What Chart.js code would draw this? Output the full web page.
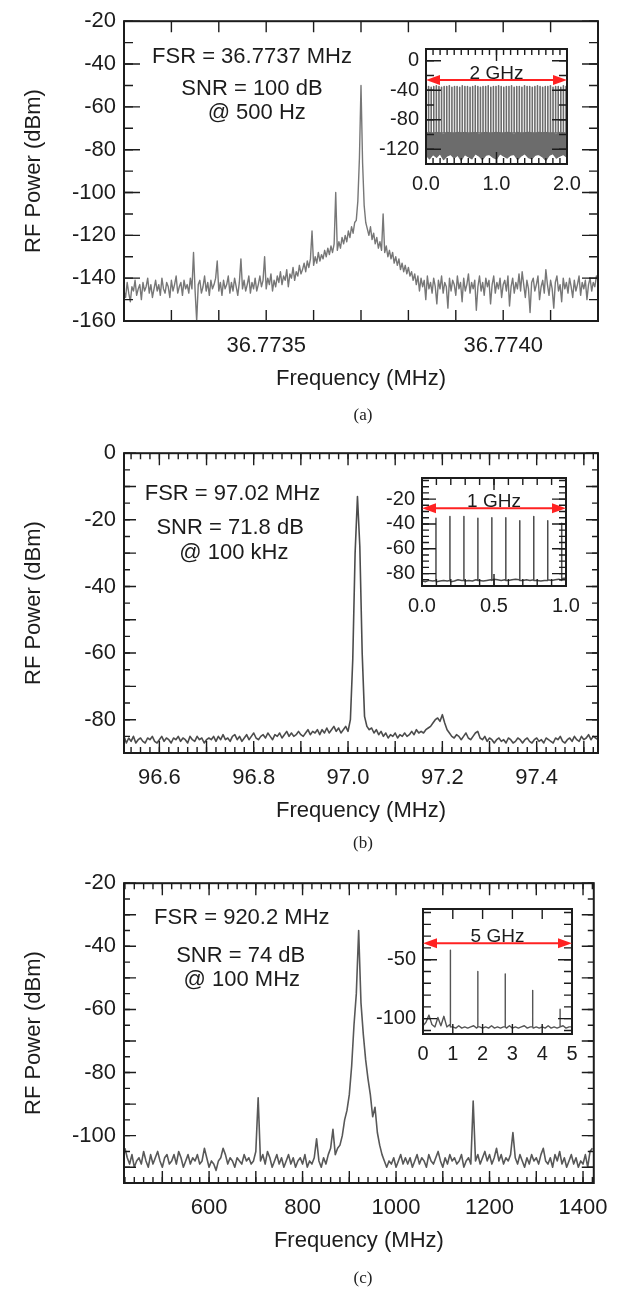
<!DOCTYPE html>
<html>
<head>
<meta charset="utf-8">
<title>RF spectra</title>
<script src="https://cdn.jsdelivr.net/npm/chart.js@4.4.1/dist/chart.umd.min.js"></script>
<style>
  html, body { margin: 0; padding: 0; background: #fff; }
  #figure { position: relative; width: 620px; height: 1290px; overflow: hidden; }
  .panel { position: absolute; left: 0; width: 620px; height: 430px; }
  .panel canvas { position: absolute; }
  .cap { position: absolute; left: 124px; width: 478px; text-align: center; line-height: 20px;
         font: 17px "Liberation Serif", "Times New Roman", serif; color: #222; }
</style>
</head>
<body>
<div id="figure">
  <div class="panel" style="top:0">
    <canvas id="mainA" width="620" height="430" style="left:0;top:0"></canvas>
    <canvas id="insetA" width="229" height="174" style="left:362px;top:30px"></canvas>
  </div>
  <div class="panel" style="top:432px">
    <canvas id="mainB" width="620" height="430" style="left:0;top:0"></canvas>
    <canvas id="insetB" width="232" height="167" style="left:358px;top:27px"></canvas>
  </div>
  <div class="panel" style="top:862px">
    <canvas id="mainC" width="620" height="430" style="left:0;top:0"></canvas>
    <canvas id="insetC" width="237" height="184" style="left:359px;top:28px"></canvas>
  </div>
  <div class="cap" style="top:405px">(a)</div>
  <div class="cap" style="top:833px">(b)</div>
  <div class="cap" style="top:1268px">(c)</div>
</div>
<script>
// ---------- (a) 36.77 MHz ring, zoom on one comb line ----------
const aFreqStart = 36.7732, aFreqStep = 1e-3 / 300;   // MHz
const aPower = [
  -146,-149,-142,-147,-151,-144,-146,-141,-148,-145,-143,-150,-142,-146,-144,-140,-147,-143,-149,-145,
  -141,-146,-143,-148,-140,-145,-147,-142,-144,-149,-141,-146,-143,-139,-147,-144,-142,-148,-141,-145,
  -143,-147,-140,-145,-128,-146,-160,-143,-141,-147,-144,-139,-146,-142,-148,-141,-145,-143,-140,-132,
  -146,-142,-148,-141,-145,-143,-139,-147,-142,-146,-140,-144,-148,-142,-131,-145,-141,-146,-143,-139,
  -147,-142,-145,-140,-146,-143,-139,-144,-141,-130,-145,-140,-143,-138,-146,-141,-144,-139,-142,-137,
  -143,-139,-141,-136,-144,-138,-140,-135,-141,-137,-139,-134,-138,-136,-133,-137,-132,-135,-131,-118,
  -134,-130,-133,-128,-132,-129,-131,-127,-130,-126,-129,-125,-128,-124,-100,-127,-123,-126,-121,-124,
  -120,-123,-118,-121,-116,-119,-114,-113,-104,-84,-50,-86,-106,-114,-117,-120,-116,-122,-119,-124,
  -121,-126,-123,-127,-110,-128,-125,-130,-127,-131,-128,-133,-130,-134,-131,-136,-133,-137,-134,-138,
  -135,-139,-137,-141,-138,-143,-139,-146,-140,-144,-141,-150,-139,-145,-142,-147,-140,-144,-152,-141,
  -145,-139,-147,-142,-144,-154,-140,-146,-141,-143,-148,-139,-145,-142,-151,-140,-146,-143,-138,-147,
  -142,-145,-141,-155,-144,-139,-146,-142,-148,-140,-144,-141,-152,-143,-139,-147,-142,-145,-140,-149,
  -143,-141,-146,-139,-153,-144,-140,-147,-142,-145,-138,-146,-137,-143,-149,-141,-145,-156,-142,-140,
  -146,-143,-139,-150,-144,-141,-147,-136,-143,-148,-141,-145,-154,-142,-139,-146,-143,-151,-140,-145,
  -142,-147,-140,-144,-149,-141,-146,-143,-139,-148,-142,-145,-141,-150,-143,-140,-146,-142,-144,-139,
  -141
];
const aFreqTicks = [36.7735, 36.7740];
const aPowerTicks = [-160, -140, -120, -100, -80, -60, -40, -20];
const aNotes = ['FSR = 36.7737 MHz', 'SNR = 100 dB', '@ 500 Hz'];

// inset (a): full 2 GHz comb
const aInsetStart = 0, aInsetStep = 0.05;           // GHz
const aInsetFloorTop = [
  -98,-97,-99,-97,-98,-100,-97,-98,-99,-97,-98,-97,-99,-98,-97,-100,-98,-97,-99,-98,
  -97,-98,-99,-97,-98,-100,-97,-99,-98,-97,-98,-99,-97,-98,-97,-99,-98,-100,-97,-98,-99
];
const aInsetFloorBottom = [
  -128,-133,-127,-131,-126,-134,-129,-127,-132,-128,-135,-127,-130,-133,-126,-129,-134,-128,-127,-131,
  -133,-126,-129,-132,-128,-127,-134,-129,-126,-131,-133,-128,-127,-130,-135,-128,-126,-132,-129,-127,-131
];
const aCombFreq = [
  0.0368,0.0735,0.1103,0.1471,0.1839,0.2206,0.2574,0.2942,0.3310,0.3677,
  0.4045,0.4413,0.4781,0.5148,0.5516,0.5884,0.6252,0.6619,0.6987,0.7355,
  0.7722,0.8090,0.8458,0.8826,0.9193,0.9561,0.9929,1.0297,1.0664,1.1032,
  1.1400,1.1768,1.2135,1.2503,1.2871,1.3239,1.3606,1.3974,1.4342,1.4709,
  1.5077,1.5445,1.5813,1.6180,1.6548,1.6916,1.7284,1.7651,1.8019,1.8387,
  1.8755,1.9122,1.9490,1.9858
];
const aCombPeak = [
  -35,-36,-35,-34,-35,-36,-35,-35,-34,-36,
  -35,-35,-36,-34,-35,-35,-36,-35,-34,-35,
  -36,-35,-35,-34,-36,-35,-35,-34,-35,-36,
  -35,-35,-34,-36,-35,-35,-36,-34,-35,-35,
  -36,-35,-34,-35,-36,-35,-35,-34,-36,-35,
  -35,-36,-34,-35
];
const aCombBase = -98;
const aInsetFreqTicks = [0, 1, 2];
const aInsetPowerTicks = [-120, -80, -40, 0];

// ---------- (b) 97.02 MHz ring ----------
const bFreqStart = 96.52, bFreqStep = 0.005;        // MHz
const bPower = [
  -86,-85,-87,-85.5,-86.5,-85,-87,-86,-85.5,-86.5,-87,-85.5,-86,-85,-86.5,-87,-86,-85,-86.5,-85.5,
  -86,-87,-85.5,-86,-85,-86.5,-85.5,-86,-87,-85,-86,-86.5,-85,-86,-85.5,-87,-86,-85.5,-86,-85,
  -86.5,-85,-86,-84.5,-86,-85.5,-86.5,-85,-84.5,-86,-85,-86.5,-85.5,-84.5,-86,-85,-84,-85.5,-86,-85,
  -84.5,-85.5,-84,-85,-86,-84.5,-85,-84,-85.5,-84.5,-83.5,-85,-84,-85,-84.5,-83.5,-84.5,-85,-84,-83,
  -84.5,-83.5,-84,-83,-84.5,-83,-84,-82.5,-84,-83,-82,-83.5,-82.5,-84,-83,-82,-83.5,-80,-62,-30,
  -13,
  -28,-60,-79,-82,-83,-82.5,-84,-83,-84.5,-83.5,-85,-84,-85.5,-84.5,-85,-84,-85.5,-84.5,-85,-84,
  -85,-84.5,-83.5,-84.5,-83,-84,-83.5,-84,-83,-82.5,-82,-81,-80,-79.5,-80.5,-78.5,-81,-83,-84,-85,
  -85.5,-84.5,-85,-86,-85,-84,-85.5,-86,-85,-84,-83.5,-85.5,-86,-85,-86.5,-85.5,-86,-87,-86,-85.5,
  -86.5,-86,-87,-85.5,-86,-87,-86.5,-85.5,-86,-87,-86,-85.5,-86.5,-87,-86,-85.5,-86.5,-86,-87,-85.5,
  -86,-86.5,-87,-85.5,-86,-85,-86.5,-87,-86,-85.5,-86.5,-85,-86,-86.5,-85,-86,-85.5,-84.5,-86,-85,-85.5,-86
];
const bFreqTicks = [96.6, 96.8, 97.0, 97.2, 97.4];
const bPowerTicks = [-80, -60, -40, -20, 0];
const bNotes = ['FSR = 97.02 MHz', 'SNR = 71.8 dB', '@ 100 kHz'];

// inset (b): 1 GHz comb
const bInsetStart = 0, bInsetStep = 0.025;          // GHz
const bInsetFloor = [
  -86,-86.5,-85.5,-86,-86.5,-86,-85.5,-86,-86.5,-86,-85,-85.5,-86,-85.5,-86,-85,-85.5,-86,-85.5,-85,
  -84.5,-85,-85.5,-85,-85.5,-85,-84.5,-85,-85.5,-85,-85.5,-85,-85.5,-86,-85.5,-85,-85.5,-85,-84.5,-84,-83.5
];
const bCombFreq = [0.0970, 0.1940, 0.2911, 0.3881, 0.4851, 0.5821, 0.6791, 0.7762, 0.8732, 0.9702];
const bCombPeak = [-35.5, -34, -34, -35.5, -35, -35, -37.5, -34, -37.5, -39.5];
const bCombBase = -85.5;
const bInsetFreqTicks = [0, 0.5, 1];
const bInsetPowerTicks = [-80, -60, -40, -20];

// ---------- (c) 920.2 MHz ring ----------
const cFreqStart = 420, cFreqStep = 5;              // MHz
const cPower = [
  -104,-107,-109,-106,-110,-108,-107,-109,-105,-108,-110,-106,-109,-107,-105,-108,-110,-107,-106,-109,
  -108,-106,-109,-105,-107,-110,-108,-106,-109,-107,-108,-106,-109,-108,-104,-107,-110,-108,-109,-111,
  -108,-107,-104,-106,-109,-107,-108,-110,-107,-108,-109,-106,-108,-107,-109,-108,-105,-88,-108,-106,
  -109,-105,-107,-110,-108,-106,-109,-107,-110,-108,-106,-109,-107,-110,-108,-107,-109,-106,-110,-108,
  -109,-107,-101,-108,-110,-107,-109,-106,-104,-98,-106,-104,-103,-100,-95,-92,-87,-78,-65,-55,
  -35,
  -58,-68,-76,-82,-87,-94,-91,-99,-103,-106,-108,-110,-108,-109,-107,-110,-108,-106,-109,-107,
  -109,-107,-110,-108,-106,-109,-107,-108,-110,-106,-108,-109,-107,-105,-108,-110,-107,-109,-106,-108,
  -107,-109,-108,-106,-110,-108,-107,-109,-89,-108,-106,-109,-107,-105,-108,-106,-109,-107,-104,-108,
  -106,-109,-107,-108,-106,-99,-107,-109,-106,-108,-110,-107,-109,-106,-108,-107,-109,-106,-104,-108,
  -109,-107,-110,-106,-108,-105,-109,-107,-110,-108,-106,-109,-107,-110,-108,-109,-106,-110,-105,-104
];
const cFreqTicks = [600, 800, 1000, 1200, 1400];
const cPowerTicks = [-100, -80, -60, -40, -20];
const cNotes = ['FSR = 920.2 MHz', 'SNR = 74 dB', '@ 100 MHz'];

// inset (c): 5 GHz comb
const cInsetStart = 0, cInsetStep = 0.1;            // GHz
const cInsetFloor = [
  -106,-103,-97,-105,-107,-99,-106,-98,-107,-105,
  -107,-108,-106,-108,-107,-108,-107,-106,-108,-107,
  -108,-107,-108,-106,-108,-107,-108,-107,-108,-106,
  -108,-107,-108,-107,-106,-108,-107,-108,-107,-108,
  -107,-108,-106,-108,-107,-108,-107,-106,-108,-107,
  -107
];
const cCombFreq = [0.9202, 1.8404, 2.7606, 3.6808, 4.6010];
const cCombPeak = [-42, -60, -62, -76, -92];
const cCombBase = -107;
const cInsetFreqTicks = [0, 1, 2, 3, 4, 5];
const cInsetPowerTicks = [-100, -50];

// ---------- helpers ----------
const ink = '#1c1c1c';
const red = '#ff2222';
const sans = '"Liberation Sans", Arial, Helvetica, sans-serif';
Chart.defaults.font.family = sans;
Chart.defaults.color = ink;

function series(start, step, values) {
  return values.map((v, i) => ({ x: start + i * step, y: v }));
}

// floor trace with the comb lines dropped in as vertical strokes
function withLines(floorPts, freqs, peaks, base) {
  const pts = floorPts.slice();
  freqs.forEach((f, i) => pts.push({ x: f, y: base }, { x: f, y: peaks[i] }, { x: f, y: base }));
  return pts.sort((p, q) => p.x - q.x);
}

function combOnly(freqs, peaks, base) {
  const pts = [];
  freqs.forEach((f, i) => pts.push({ x: f, y: base }, { x: f, y: peaks[i] }, { x: f, y: base }));
  return pts;
}

// frame, inward ticks on all four sides, text notes and the span arrow
function decor(spec) {
  return {
    id: 'decor',
    afterDatasetsDraw(chart) {
      const { ctx, chartArea: a, scales: { x, y } } = chart;
      const t = spec.marks;
      ctx.save();
      ctx.strokeStyle = ink;
      ctx.lineWidth = 1.4;
      const run = (scale, step, len, horiz) => {
        if (!step) return;
        const k0 = Math.ceil(scale.min / step - 1e-6);
        const k1 = Math.floor(scale.max / step + 1e-6);
        ctx.beginPath();
        for (let k = k0; k <= k1; k++) {
          const p = scale.getPixelForValue(k * step);
          if (horiz) {
            ctx.moveTo(p, a.bottom); ctx.lineTo(p, a.bottom - len);
            ctx.moveTo(p, a.top); ctx.lineTo(p, a.top + len);
          } else {
            ctx.moveTo(a.left, p); ctx.lineTo(a.left + len, p);
            ctx.moveTo(a.right, p); ctx.lineTo(a.right - len, p);
          }
        }
        ctx.stroke();
      };
      run(x, t.xMinor, t.xMinorLen, true);
      run(x, t.xMajor, t.xMajorLen, true);
      run(y, t.yMinor, t.yMinorLen, false);
      run(y, t.yMajor, t.yMajorLen, false);
      ctx.lineWidth = 2;
      ctx.strokeRect(a.left, a.top, a.right - a.left, a.bottom - a.top);

      if (spec.notes) {
        ctx.fillStyle = ink;
        ctx.font = '22px ' + sans;
        ctx.textAlign = 'center';
        ctx.textBaseline = 'middle';
        spec.notes.forEach((txt, i) => {
          const [nx, ny] = spec.noteAt[i];
          ctx.fillText(txt, x.getPixelForValue(nx), y.getPixelForValue(ny));
        });
      }

      if (spec.span) {
        const yy = y.getPixelForValue(spec.span.db);
        const x0 = x.getPixelForValue(x.min), x1 = x.getPixelForValue(x.max);
        ctx.fillStyle = ink;
        ctx.font = '19px ' + sans;
        ctx.textAlign = 'center';
        ctx.textBaseline = 'alphabetic';
        ctx.fillText(spec.span.text, (x0 + x1) / 2, yy - 1);
        ctx.strokeStyle = red;
        ctx.fillStyle = red;
        ctx.lineWidth = 2;
        ctx.beginPath(); ctx.moveTo(x0 + 8, yy); ctx.lineTo(x1 - 8, yy); ctx.stroke();
        ctx.beginPath(); ctx.moveTo(x0, yy); ctx.lineTo(x0 + 14, yy - 5); ctx.lineTo(x0 + 14, yy + 5); ctx.closePath(); ctx.fill();
        ctx.beginPath(); ctx.moveTo(x1, yy); ctx.lineTo(x1 - 14, yy - 5); ctx.lineTo(x1 - 14, yy + 5); ctx.closePath(); ctx.fill();
      }
      ctx.restore();
    }
  };
}

function axisX(o) {
  return {
    type: 'linear', position: 'bottom', min: o.min, max: o.max, bounds: 'data',
    grid: { display: false, drawTicks: false }, border: { display: false },
    afterBuildTicks: s => { s.ticks = o.ticks.map(v => ({ value: v })); },
    afterFit: s => { s.height = o.height; },
    ticks: { autoSkip: false, maxRotation: 0, minRotation: 0, padding: o.pad,
             font: { size: o.size }, color: ink, callback: o.fmt },
    title: o.title ? { display: true, text: o.title, color: ink, font: { size: o.size },
                       padding: { top: 0, bottom: o.titlePad } } : { display: false }
  };
}

function axisY(o) {
  return {
    type: 'linear', position: 'left', min: o.min, max: o.max, bounds: 'data',
    grid: { display: false, drawTicks: false }, border: { display: false },
    afterBuildTicks: s => { s.ticks = o.ticks.map(v => ({ value: v })); },
    afterFit: s => { s.width = o.width; },
    ticks: { autoSkip: false, padding: o.pad, font: { size: o.size }, color: ink,
             callback: v => v.toFixed(0) },
    title: o.title ? { display: true, text: o.title, color: ink, font: { size: o.size },
                       padding: { top: o.titlePad, bottom: 0 } } : { display: false }
  };
}

function baseOptions(padding, x, y) {
  return {
    responsive: false, animation: false, devicePixelRatio: 1, events: [], parsing: false,
    layout: { autoPadding: false, padding },
    plugins: { legend: { display: false }, tooltip: { enabled: false } },
    scales: { x, y }
  };
}

function buildMain(id, spec) {
  new Chart(document.getElementById(id), {
    type: 'line',
    data: { datasets: [{ data: spec.points, borderColor: spec.color, borderWidth: spec.width,
                         borderJoinStyle: 'round', pointRadius: 0, tension: 0 }] },
    options: baseOptions({ top: 17, right: 22, bottom: 0, left: 0 },
      axisX({ min: spec.xMin, max: spec.xMax, ticks: spec.xTicks, fmt: spec.xFmt, height: 109,
              pad: 12, size: 22, title: 'Frequency (MHz)', titlePad: 38 }),
      axisY({ min: spec.yMin, max: spec.yMax, ticks: spec.yTicks, width: 124, pad: 8,
              size: 22, title: 'RF Power (dBm)', titlePad: 21 })),
    plugins: [decor(spec)]
  });
}

function buildInset(id, spec) {
  new Chart(document.getElementById(id), {
    type: 'line',
    data: { datasets: spec.datasets },
    options: baseOptions({ top: 12, right: 24, bottom: 0, left: 0 },
      axisX({ min: spec.xMin, max: spec.xMax, ticks: spec.xTicks, fmt: spec.xFmt, height: 40,
              pad: 8, size: 20 }),
      axisY({ min: spec.yMin, max: spec.yMax, ticks: spec.yTicks, width: 64, pad: 7, size: 20 })),
    plugins: [decor(spec)]
  });
}

const trace = (data, color, width, extra) =>
  Object.assign({ data, borderColor: color, borderWidth: width, borderJoinStyle: 'round',
                  pointRadius: 0, tension: 0, fill: false }, extra || {});

// ---------- panel (a) ----------
buildMain('mainA', {
  points: series(aFreqStart, aFreqStep, aPower), color: '#777777', width: 1.4,
  xMin: 36.7732, xMax: 36.7742, xTicks: aFreqTicks, xFmt: v => v.toFixed(4),
  yMin: -160, yMax: -20, yTicks: aPowerTicks,
  marks: { xMajor: 0.0001, xMajorLen: 11, yMajor: 20, yMajorLen: 16, yMinor: 10, yMinorLen: 9 },
  notes: aNotes, noteAt: [[36.77347, -36.5], [36.77347, -51.5], [36.77348, -63]]
});
buildInset('insetA', {
  datasets: [
    trace(combOnly(aCombFreq, aCombPeak, aCombBase), '#6c6c6c', 1.6),
    trace(series(aInsetStart, aInsetStep, aInsetFloorTop), '#6c6c6c', 1.2, { fill: '+1', backgroundColor: '#6c6c6c' }),
    trace(series(aInsetStart, aInsetStep, aInsetFloorBottom), '#6c6c6c', 1.2)
  ],
  xMin: 0, xMax: 2, xTicks: aInsetFreqTicks, xFmt: v => v.toFixed(1),
  yMin: -140, yMax: 16, yTicks: aInsetPowerTicks,
  marks: { xMajor: 1, xMajorLen: 12, xMinor: 0.1, xMinorLen: 6, yMajor: 40, yMajorLen: 15, yMinor: 20, yMinorLen: 8 },
  span: { db: -26, text: '2 GHz' }
});

// ---------- panel (b) ----------
buildMain('mainB', {
  points: series(bFreqStart, bFreqStep, bPower), color: '#4c4c4c', width: 1.6,
  xMin: 96.525, xMax: 97.53, xTicks: bFreqTicks, xFmt: v => v.toFixed(1),
  yMin: -90, yMax: 0, yTicks: bPowerTicks,
  marks: { xMajor: 0.1, xMajorLen: 12, xMinor: 0.02, xMinorLen: 6, yMajor: 10, yMajorLen: 12, yMinor: 5, yMinorLen: 6 },
  notes: bNotes, noteAt: [[96.755, -12.3], [96.75, -22.5], [96.758, -29.9]]
});
buildInset('insetB', {
  datasets: [trace(withLines(series(bInsetStart, bInsetStep, bInsetFloor), bCombFreq, bCombPeak, bCombBase), '#4c4c4c', 1.5)],
  xMin: 0, xMax: 1, xTicks: bInsetFreqTicks, xFmt: v => v.toFixed(1),
  yMin: -90, yMax: -3, yTicks: bInsetPowerTicks,
  marks: { xMajor: 0.5, xMajorLen: 12, xMinor: 0.1, xMinorLen: 7, yMajor: 20, yMajorLen: 14, yMinor: 5, yMinorLen: 7 },
  span: { db: -27.4, text: '1 GHz' }
});

// ---------- panel (c) ----------
buildMain('mainC', {
  points: series(cFreqStart, cFreqStep, cPower), color: '#585858', width: 1.6,
  xMin: 418, xMax: 1423, xTicks: cFreqTicks, xFmt: v => v.toFixed(0),
  yMin: -115, yMax: -20, yTicks: cPowerTicks,
  marks: { xMajor: 100, xMajorLen: 12, xMinor: 20, xMinorLen: 6, yMajor: 10, yMajorLen: 12, yMinor: 5, yMinorLen: 6 },
  notes: cNotes, noteAt: [[670, -31.1], [667.6, -43.1], [670, -50.6]]
});
buildInset('insetC', {
  datasets: [trace(withLines(series(cInsetStart, cInsetStep, cInsetFloor), cCombFreq, cCombPeak, cCombBase), '#555555', 1.4)],
  xMin: 0, xMax: 5, xTicks: cInsetFreqTicks, xFmt: v => v.toFixed(0),
  yMin: -113, yMax: -7, yTicks: cInsetPowerTicks,
  marks: { xMajor: 1, xMajorLen: 10, yMajor: 50, yMajorLen: 14, yMinor: 10, yMinorLen: 8 },
  span: { db: -36, text: '5 GHz' }
});
</script>
</body>
</html>
